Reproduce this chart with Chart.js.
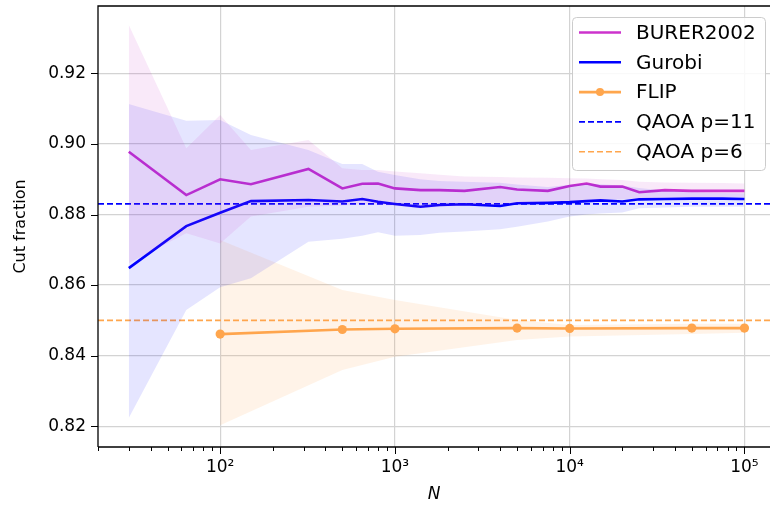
<!DOCTYPE html>
<html>
<head>
<meta charset="utf-8">
<script src="https://cdn.jsdelivr.net/npm/chart.js@4.4.0/dist/chart.umd.min.js"></script>
<style>
  body { margin: 0; background: #fff; }
  #wrap { width: 770px; height: 512px; }
</style>
</head>
<body>
<div id="wrap"><canvas id="myChart" width="770" height="512"></canvas></div>
<script>
// problem sizes
const nValues = [30, 64, 100, 150, 320, 500, 650, 800, 1000, 1400, 1800, 2500, 4000, 5000, 7500,
  10000, 12500, 15000, 20000, 25000, 35000, 50000, 75000, 100000];

const burer = [0.8978, 0.8855, 0.8900, 0.8886, 0.8929, 0.8874, 0.8887, 0.8888, 0.8874, 0.8869, 0.8869, 0.8867,
  0.8878, 0.8871, 0.8867, 0.8881, 0.8888, 0.8879, 0.8879, 0.8863, 0.8869, 0.8867, 0.8867, 0.8867];
const burerHi = [0.9337, 0.8988, 0.9082, 0.8983, 0.9011, 0.8931, 0.8926, 0.8926, 0.8922, 0.8917, 0.8913, 0.8908,
  0.8906, 0.8905, 0.8904, 0.8903, 0.8902, 0.8900, 0.8898, 0.8893, 0.8891, 0.8890, 0.8889, 0.8888];
const burerLo = [0.8662, 0.8747, 0.8718, 0.8794, 0.8822, 0.8825, 0.8830, 0.8828, 0.8825, 0.8818, 0.8822, 0.8825,
  0.8828, 0.8832, 0.8835, 0.8838, 0.8840, 0.8842, 0.8843, 0.8846, 0.8847, 0.8848, 0.8848, 0.8848];

const gurobi = [0.8648, 0.8767, 0.8805, 0.8838, 0.8841, 0.8837, 0.8844, 0.8836, 0.8830, 0.8822, 0.8827, 0.8829,
  0.8824, 0.8832, 0.8833, 0.8835, 0.8838, 0.8840, 0.8837, 0.8843, 0.8844, 0.8845, 0.8845, 0.8844];
const gurobiHi = [0.9113, 0.9066, 0.9068, 0.9025, 0.8983, 0.8943, 0.8943, 0.8921, 0.8912, 0.8900, 0.8895, 0.8893,
  0.8890, 0.8885, 0.8878, 0.8884, 0.8888, 0.8886, 0.8882, 0.8875, 0.8868, 0.8863, 0.8861, 0.8860];
const gurobiLo = [0.8223, 0.8529, 0.8594, 0.8619, 0.8723, 0.8731, 0.8740, 0.8750, 0.8740, 0.8742, 0.8748, 0.8752,
  0.8758, 0.8765, 0.8780, 0.8794, 0.8800, 0.8803, 0.8806, 0.8818, 0.8820, 0.8822, 0.8822, 0.8822];

const flipN = [100, 500, 1000, 5000, 10000, 50000, 100000];
const flip = [0.8461, 0.8474, 0.8476, 0.8478, 0.8477, 0.8478, 0.8478];
const flipHi = [0.8728, 0.8586, 0.8558, 0.8501, 0.8487, 0.8490, 0.8490];
const flipLo = [0.8203, 0.8359, 0.8397, 0.8444, 0.8454, 0.8461, 0.8465];

const qaoa11 = 0.883;
const qaoa6 = 0.85;

const xMin = 20, xMax = 140000;
const yMin = 0.8141, yMax = 0.9391;
const yTicks = [0.82, 0.84, 0.86, 0.88, 0.90, 0.92];
const xMajor = [100, 1000, 10000, 100000];
const xLabels = { 100: "10²", 1000: "10³", 10000: "10⁴", 100000: "10⁵" };

const MAGENTA = "#cc33cc";
const BLUE = "#0000ff";
const ORANGE = "#ffa64d";

const pts = (xs, ys) => xs.map((x, i) => ({ x: x, y: ys[i] }));
const hline = (v) => [{ x: xMin, y: v }, { x: xMax, y: v }];

// every 1..9 x 10^k between the limits
let xTickVals = [];
for (let e = 1; e <= 5; e++) {
  for (let m = 1; m <= 9; m++) {
    const v = m * Math.pow(10, e);
    if (v >= xMin && v <= xMax) xTickVals.push(v);
  }
}

const base = { pointRadius: 0, borderWidth: 0, tension: 0 };

const data = {
  datasets: [
    { ...base, label: "bHi", data: pts(nValues, burerHi), borderColor: "transparent", fill: false },
    { ...base, label: "bLo", data: pts(nValues, burerLo), borderColor: "transparent",
      backgroundColor: "rgba(204,51,204,0.11)", fill: "-1" },
    { ...base, label: "gHi", data: pts(nValues, gurobiHi), borderColor: "transparent", fill: false },
    { ...base, label: "gLo", data: pts(nValues, gurobiLo), borderColor: "transparent",
      backgroundColor: "rgba(0,0,255,0.1)", fill: "-1" },
    { ...base, label: "fHi", data: pts(flipN, flipHi), borderColor: "transparent", fill: false },
    { ...base, label: "fLo", data: pts(flipN, flipLo), borderColor: "transparent",
      backgroundColor: "rgba(255,166,77,0.13)", fill: "-1" },
    { label: "BURER2002", data: pts(nValues, burer), borderColor: MAGENTA, borderWidth: 2.6,
      pointRadius: 0, fill: false, legend: true },
    { label: "Gurobi", data: pts(nValues, gurobi), borderColor: BLUE, borderWidth: 2.6,
      pointRadius: 0, fill: false, legend: true },
    { label: "FLIP", data: pts(flipN, flip), borderColor: ORANGE, backgroundColor: ORANGE, borderWidth: 2.6,
      pointRadius: 4.6, pointBorderWidth: 0, fill: false, legend: true },
    { label: "QAOA p=11", data: hline(qaoa11), borderColor: BLUE, borderWidth: 1.6, borderDash: [6, 3],
      pointRadius: 0, fill: false, legend: true },
    { label: "QAOA p=6", data: hline(qaoa6), borderColor: ORANGE, borderWidth: 1.6, borderDash: [6, 3],
      pointRadius: 0, fill: false, legend: true },
  ],
};

// spines, tick marks and the legend box
const frame = {
  id: "frame",
  afterDraw(chart) {
    const ctx = chart.ctx;
    const a = chart.chartArea;
    const xs = chart.scales.x, ys = chart.scales.y;
    ctx.save();
    ctx.strokeStyle = "#000";
    ctx.lineWidth = 1.3;
    ctx.beginPath();
    ctx.moveTo(a.left, a.bottom); ctx.lineTo(a.left, a.top); ctx.lineTo(a.right, a.top);
    ctx.moveTo(a.left, a.bottom); ctx.lineTo(a.right, a.bottom);
    ctx.stroke();
    ctx.lineWidth = 1;
    ctx.beginPath();
    xs.ticks.forEach((t) => {
      const px = Math.round(xs.getPixelForValue(t.value)) + 0.5;
      const len = xMajor.includes(t.value) ? 7 : 4;
      ctx.moveTo(px, a.bottom); ctx.lineTo(px, a.bottom + len);
    });
    ys.ticks.forEach((t) => {
      const py = Math.round(ys.getPixelForValue(t.value)) + 0.5;
      ctx.moveTo(a.left - 7, py); ctx.lineTo(a.left, py);
    });
    ctx.stroke();

    // legend
    const items = chart.data.datasets.filter((d) => d.legend);
    const bx = 572, by = 17, bw = 193, bh = 153;
    ctx.fillStyle = "rgba(255,255,255,0.85)";
    ctx.strokeStyle = "#cccccc";
    ctx.lineWidth = 1;
    ctx.beginPath();
    ctx.roundRect(bx + 0.5, by + 0.5, bw, bh, 4);
    ctx.fill(); ctx.stroke();
    ctx.font = "20px 'DejaVu Sans'";
    ctx.textBaseline = "middle";
    items.forEach((d, i) => {
      const cy = 32.5 + i * 29.8;
      ctx.strokeStyle = d.borderColor;
      ctx.lineWidth = d.borderWidth;
      ctx.setLineDash(d.borderDash || []);
      ctx.beginPath();
      ctx.moveTo(579, cy); ctx.lineTo(621, cy);
      ctx.stroke();
      ctx.setLineDash([]);
      if (d.pointRadius > 0) {
        ctx.fillStyle = d.borderColor;
        ctx.beginPath();
        ctx.arc(600, cy, 4, 0, Math.PI * 2);
        ctx.fill();
      }
      ctx.fillStyle = "#000";
      ctx.fillText(d.label, 636, cy + 1);
    });
    ctx.restore();
  },
};

const config = {
  type: "line",
  data: data,
  options: {
    responsive: false,
    animation: false,
    layout: { autoPadding: false, padding: { top: 6, right: 0, left: 0, bottom: 0 } },
    plugins: {
      legend: { display: false },
      tooltip: { enabled: false },
    },
    scales: {
      x: {
        type: "logarithmic",
        min: xMin,
        max: xMax,
        afterBuildTicks: (scale) => { scale.ticks = xTickVals.map((v) => ({ value: v })); },
        afterFit: (scale) => { scale.height = 65; scale.paddingLeft = 0; scale.paddingRight = 0; },
        ticks: {
          autoSkip: false,
          maxRotation: 0,
          padding: 10,
          color: "#000",
          font: { family: "DejaVu Sans", size: 17 },
          callback: (v) => xLabels[v] || "",
        },
        grid: {
          drawTicks: false,
          color: (c) => (c.tick && xMajor.includes(c.tick.value) ? "#d3d3d3" : "transparent"),
          lineWidth: 1.2,
        },
        border: { display: false },
        title: {
          display: true,
          text: "N",
          color: "#000",
          font: { family: "DejaVu Sans", size: 17, style: "italic" },
          padding: { top: 2, bottom: 7 },
        },
      },
      y: {
        type: "linear",
        min: yMin,
        max: yMax,
        afterBuildTicks: (scale) => { scale.ticks = yTicks.map((v) => ({ value: v })); },
        afterFit: (scale) => { scale.width = 98; scale.paddingTop = 0; scale.paddingBottom = 0; },
        ticks: {
          padding: 12,
          color: "#000",
          font: { family: "DejaVu Sans", size: 17 },
          callback: (v) => v.toFixed(2),
        },
        grid: { drawTicks: false, color: "#d3d3d3", lineWidth: 1.2 },
        border: { display: false },
        title: {
          display: true,
          text: "Cut fraction",
          color: "#000",
          font: { family: "DejaVu Sans", size: 16 },
          padding: { top: 11, bottom: 6 },
        },
      },
    },
  },
  plugins: [frame],
};

const chart = new Chart(document.getElementById("myChart"), config);
</script>
</body>
</html>
